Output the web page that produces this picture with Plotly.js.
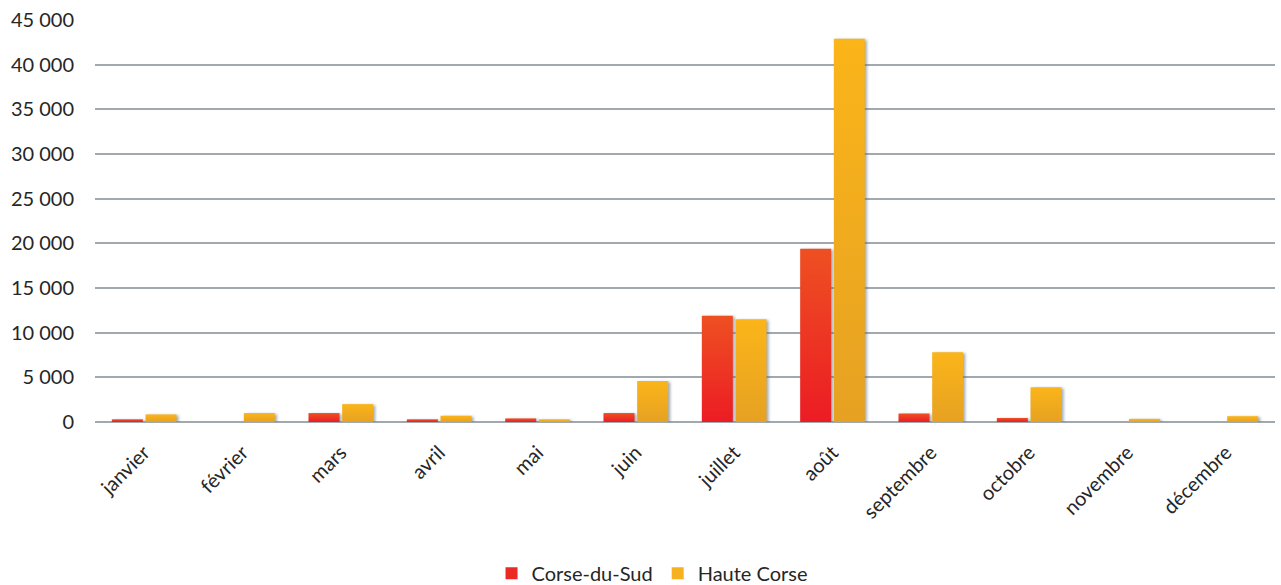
<!DOCTYPE html>
<html>
<head>
<meta charset="utf-8">
<script src="https://cdn.plot.ly/plotly-3.0.1.min.js"></script>
<style>
  html, body { margin: 0; padding: 0; background: #ffffff; }
  #chart { width: 1281px; height: 585px; }
</style>
</head>
<body>
<div id="chart"></div>
<script>
// Monthly figures per department
const months = ["janvier", "février", "mars", "avril", "mai", "juin",
                "juillet", "août", "septembre", "octobre", "novembre", "décembre"];
const corseDuSud = [300, 0, 1000, 300, 400, 1000, 11900, 19400, 950, 450, 0, 0];
const hauteCorse = [850, 1000, 2000, 700, 300, 4600, 11500, 42900, 7800, 3900, 350, 650];
const yTicks = [0, 5000, 10000, 15000, 20000, 25000, 30000, 35000, 40000, 45000];

const FONT = "Lato, 'Open Sans', sans-serif";
const TEXT = "#262626";
const GRID = "#a1a8ae";

const traces = [
  { type: "bar", name: "Corse-du-Sud", x: months, y: corseDuSud,
    marker: { color: "#ec2a24" }, hoverinfo: "x+y" },
  { type: "bar", name: "Haute Corse", x: months, y: hauteCorse,
    marker: { color: "#f7b01f" }, hoverinfo: "x+y" }
];

const layout = {
  width: 1281, height: 585,
  margin: { l: 95, r: 6, t: 20, b: 163 },
  paper_bgcolor: "#ffffff", plot_bgcolor: "#ffffff",
  separators: ", ",
  barmode: "group", bargap: 0.315, bargroupgap: 0.08,
  font: { family: FONT, color: TEXT, size: 19 },
  showlegend: true,
  legend: { orientation: "h", xref: "container", x: 0.509, xanchor: "center",
            yref: "container", y: 0.02, yanchor: "middle",
            font: { size: 20, family: FONT, color: TEXT },
            itemwidth: 30, traceorder: "normal" },
  xaxis: {
    type: "category", tickangle: -45, showgrid: false, showline: false, zeroline: false,
    automargin: false, ticks: "", ticklabelstandoff: 14,
    tickfont: { size: 20, family: FONT, color: TEXT }
  },
  yaxis: {
    range: [0, 45000], tickvals: yTicks, tickformat: ",d", automargin: false,
    showgrid: true, gridcolor: GRID, gridwidth: 2,
    zeroline: true, zerolinecolor: GRID, zerolinewidth: 2,
    showline: false, ticks: "", ticklabelstandoff: 20,
    tickfont: { size: 20, family: FONT, color: TEXT }
  }
};

Plotly.newPlot("chart", traces, layout, { staticPlot: true }).then(function (gd) {
  // Vertical gradients and a soft shadow on the bars
  const svgNS = "http://www.w3.org/2000/svg";
  const svg = gd.querySelector("svg.main-svg");
  let defs = svg.querySelector("defs");
  if (!defs) { defs = document.createElementNS(svgNS, "defs"); svg.insertBefore(defs, svg.firstChild); }
  function addGrad(id, top, bottom) {
    const g = document.createElementNS(svgNS, "linearGradient");
    g.setAttribute("id", id);
    g.setAttribute("x1", "0"); g.setAttribute("y1", "0");
    g.setAttribute("x2", "0"); g.setAttribute("y2", "1");
    [[0, top], [1, bottom]].forEach(function (s) {
      const st = document.createElementNS(svgNS, "stop");
      st.setAttribute("offset", s[0]);
      st.setAttribute("stop-color", s[1]);
      g.appendChild(st);
    });
    defs.appendChild(g);
  }
  addGrad("gradSud", "#ee5022", "#ec1c24");
  addGrad("gradHaute", "#fbb519", "#e6a123");
  const fills = ["url(#gradSud)", "url(#gradHaute)"];
  gd.querySelectorAll(".barlayer .trace").forEach(function (tr, i) {
    tr.querySelectorAll(".point path").forEach(function (p) {
      p.style.fill = fills[i];
      p.style.filter = "drop-shadow(2px 1px 1.5px rgba(90,110,130,0.6))";
    });
  });
});
</script>
</body>
</html>
